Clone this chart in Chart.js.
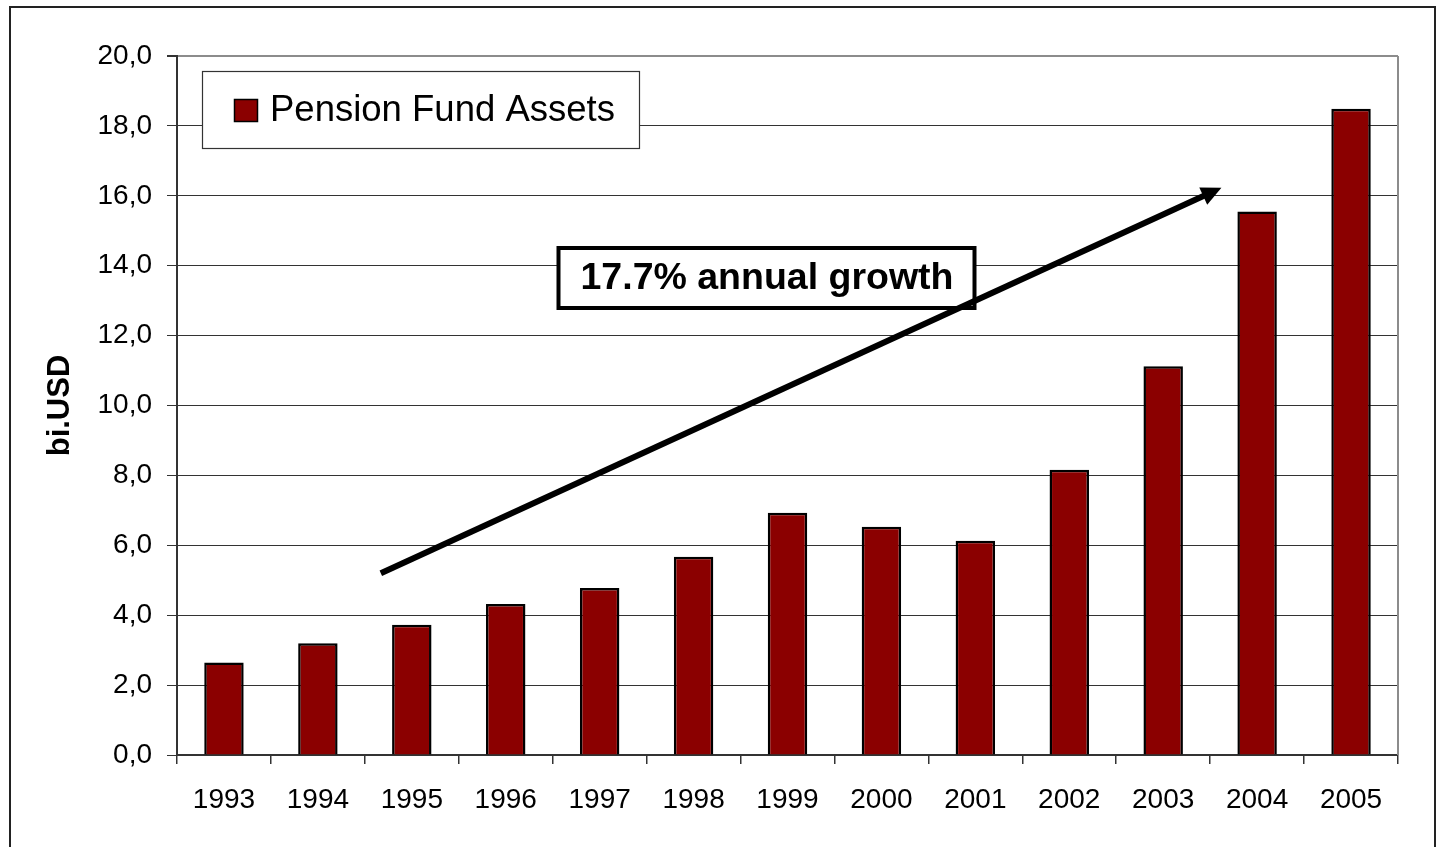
<!DOCTYPE html>
<html>
<head>
<meta charset="utf-8">
<script src="https://cdn.jsdelivr.net/npm/chart.js@4.4.0/dist/chart.umd.min.js"></script>
<style>
    html, body { margin: 0; padding: 0; background: #fff; }
    canvas { display: block; }
</style>
</head>
<body>
<canvas id="myChart" width="1441" height="847"></canvas>
<script>
// dados
const anos = ["1993", "1994", "1995", "1996", "1997", "1998", "1999", "2000", "2001", "2002", "2003", "2004", "2005"];
const ativos = [2.65, 3.2, 3.73, 4.32, 4.78, 5.67, 6.93, 6.53, 6.13, 8.16, 11.12, 15.55, 18.49];
const rotuloSerie = "Pension Fund Assets";
const tituloEixoY = "bi.USD";
const textoCrescimento = "17.7% annual growth";
// seta em unidades do grafico: [indice da categoria, valor]
const setaInicio = [1.67, 5.2];
const setaFim = [10.62, 16.23];

const corBarra = "#8b0000";
Chart.defaults.font.family = "'Liberation Sans', Arial, sans-serif";
Chart.defaults.color = "#000";

const bordaArea = {
    id: "bordaArea",
    beforeDatasetsDraw(chart) {
        const { ctx, chartArea } = chart;
        ctx.save();
        ctx.strokeStyle = "#8c8c8c";
        ctx.lineWidth = 2;
        ctx.beginPath();
        ctx.moveTo(chartArea.right, chartArea.top);
        ctx.lineTo(chartArea.right, chartArea.bottom);
        ctx.stroke();
        ctx.restore();
    }
};

const extras = {
    id: "extras",
    afterDraw(chart) {
        const ctx = chart.ctx;
        const x = chart.scales.x, y = chart.scales.y;
        ctx.save();

        // moldura externa
        ctx.strokeStyle = "#222";
        ctx.lineWidth = 2;
        ctx.strokeRect(10, 7, 1425, 900);

        // legenda
        ctx.fillStyle = "#fff";
        ctx.fillRect(202, 71, 437, 77);
        ctx.strokeStyle = "#333";
        ctx.lineWidth = 1.2;
        ctx.strokeRect(202.5, 71.5, 437, 77);
        ctx.fillStyle = corBarra;
        ctx.fillRect(234, 99, 24, 23);
        ctx.strokeStyle = "#000";
        ctx.lineWidth = 1.5;
        ctx.strokeRect(234.5, 99.5, 23, 22);
        ctx.fillStyle = "#000";
        ctx.font = "36.5px 'Liberation Sans', Arial, sans-serif";
        ctx.textBaseline = "middle";
        ctx.textAlign = "left";
        ctx.fillText(rotuloSerie, 270, 111);

        // caixa de texto
        ctx.fillStyle = "#fff";
        ctx.fillRect(558, 248, 417, 60);
        ctx.strokeStyle = "#000";
        ctx.lineWidth = 4;
        ctx.strokeRect(558.5, 248, 416, 60);
        ctx.fillStyle = "#000";
        ctx.font = "bold 37.5px 'Liberation Sans', Arial, sans-serif";
        ctx.textAlign = "center";
        ctx.textBaseline = "alphabetic";
        ctx.fillText(textoCrescimento, 767, 289);

        // seta
        const x0 = x.getPixelForValue(setaInicio[0]), y0 = y.getPixelForValue(setaInicio[1]);
        const x1 = x.getPixelForValue(setaFim[0]), y1 = y.getPixelForValue(setaFim[1]);
        const ang = Math.atan2(y1 - y0, x1 - x0);
        const cab = 20, meia = 9.5;
        const bx = x1 - cab * Math.cos(ang), by = y1 - cab * Math.sin(ang);
        ctx.strokeStyle = "#000";
        ctx.lineWidth = 6;
        ctx.beginPath();
        ctx.moveTo(x0, y0);
        ctx.lineTo(bx + 2 * Math.cos(ang), by + 2 * Math.sin(ang));
        ctx.stroke();
        ctx.fillStyle = "#000";
        ctx.beginPath();
        ctx.moveTo(x1, y1);
        ctx.lineTo(bx + meia * Math.sin(ang), by - meia * Math.cos(ang));
        ctx.lineTo(bx - meia * Math.sin(ang), by + meia * Math.cos(ang));
        ctx.closePath();
        ctx.fill();

        ctx.restore();
    }
};

const data = {
    labels: anos,
    datasets: [
        {
            label: rotuloSerie,
            data: ativos,
            backgroundColor: corBarra,
            borderColor: "#000",
            borderWidth: 2.5,
            barPercentage: 0.42,
            categoryPercentage: 1,
        },
    ],
};

const config = {
    type: "bar",
    data,
    options: {
        responsive: false,
        animation: false,
        devicePixelRatio: 1,
        layout: { padding: { left: 0, top: 56, right: 43, bottom: 0 } },
        plugins: {
            legend: { display: false },
            tooltip: { enabled: false },
        },
        scales: {
            x: {
                afterFit: (s) => { s.height = 92; },
                grid: {
                    offset: true,
                    drawOnChartArea: false,
                    tickLength: 9,
                    color: "#333",
                    lineWidth: 1.5,
                },
                border: { color: "#333", width: 2 },
                ticks: {
                    font: { size: 28 },
                    color: "#000",
                    padding: 19,
                    maxRotation: 0,
                    autoSkip: false,
                },
            },
            y: {
                min: 0,
                max: 20,
                afterFit: (s) => { s.width = 177; },
                grid: {
                    color: (c) => (c.tick && c.tick.value === 20 ? "#8c8c8c" : "#333"),
                    tickColor: "#333",
                    lineWidth: (c) => (c.tick && c.tick.value === 20 ? 2 : 1),
                    tickLength: 10,
                },
                border: { color: "#333", width: 2 },
                ticks: {
                    stepSize: 2,
                    font: { size: 28 },
                    color: "#000",
                    padding: 15,
                    callback: (v) => Number(v).toFixed(1).replace(".", ","),
                },
                title: {
                    display: true,
                    text: tituloEixoY,
                    font: { size: 31, weight: "bold" },
                    color: "#000",
                    padding: { top: 42, bottom: 0 },
                },
            },
        },
    },
    plugins: [bordaArea, extras],
};

const myChart = new Chart(document.getElementById("myChart").getContext("2d"), config);
</script>
</body>
</html>
